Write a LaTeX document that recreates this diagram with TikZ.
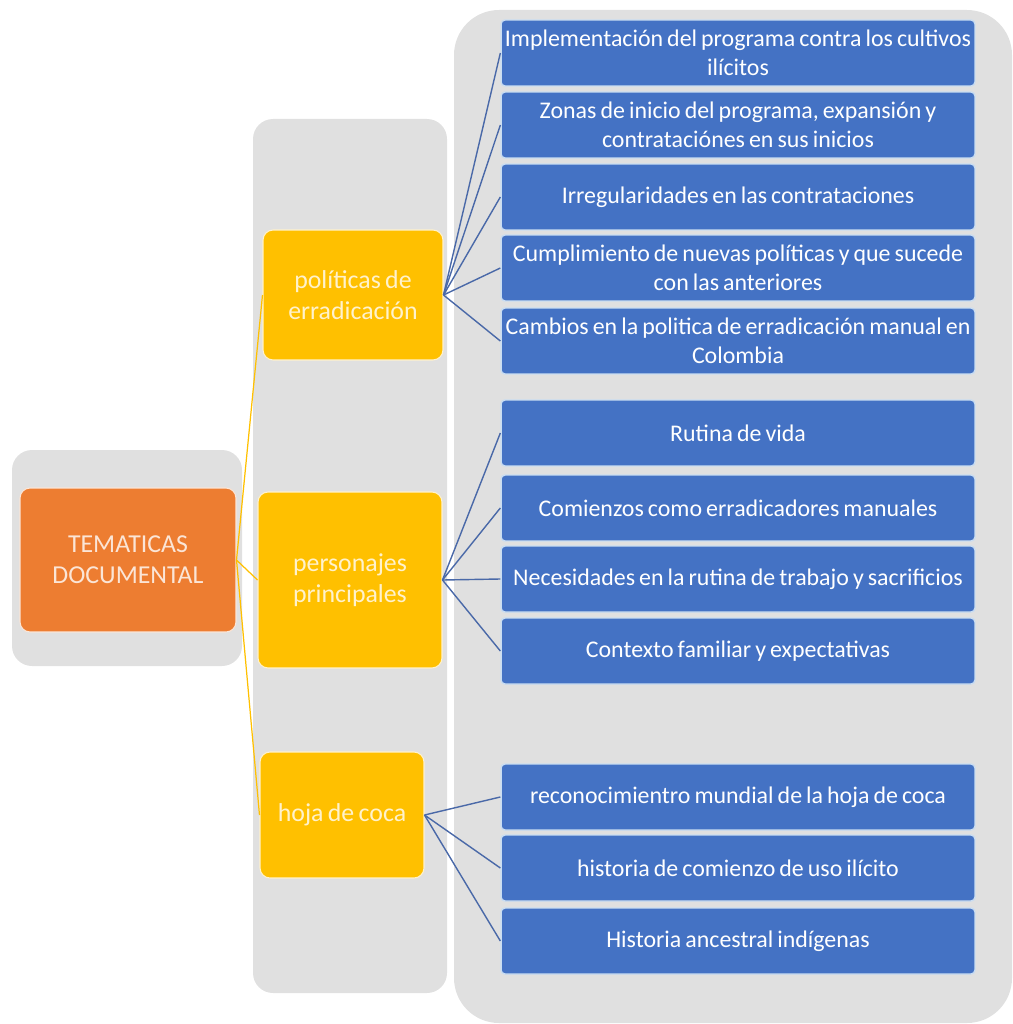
\documentclass[tikz,border=0pt]{standalone}
\usepackage{fontspec}
\setmainfont{Carlito}[WordSpace=0.75]

\definecolor{panelgray}{HTML}{E0E0E0}
\definecolor{temaorange}{HTML}{ED7D31}
\definecolor{subyellow}{HTML}{FFC000}
\definecolor{itemblue}{HTML}{4472C4}
\definecolor{linkblue}{HTML}{4A69A8}
\definecolor{paleyellow}{HTML}{FFF2CC}
\definecolor{palepeach}{HTML}{FBE5D6}
\definecolor{edgeblue}{HTML}{C9DDF2}

\tikzset{
    panel/.style={fill=panelgray, rounded corners=0.4cm},
    temabox/.style={draw=palepeach, line width=0.6pt, fill=temaorange, text=palepeach,
        rounded corners=0.2cm, align=center, minimum width=4.32cm, minimum height=2.88cm,
        font=\fontsize{14.7}{17.5}\selectfont},
    subbox/.style={draw=paleyellow, line width=0.6pt, fill=subyellow, text=paleyellow,
        rounded corners=0.2cm, align=center, font=\fontsize{14.7}{17.5}\selectfont},
    itembox/.style={draw=edgeblue, line width=0.8pt, fill=itemblue, text=white,
        rounded corners=0.08cm, minimum width=9.48cm, minimum height=1.32cm,
        inner sep=0pt, align=center, font=\fontsize{13.6}{16.8}\selectfont},
    sublink/.style={subyellow, line width=0.7pt},
    itemlink/.style={linkblue, line width=0.8pt},
}

\begin{document}
\begin{tikzpicture}[x=0.02cm, y=-0.02cm]
    \useasboundingbox (0,0) rectangle (1012,1024);

    % Gray panels behind each column:
    \fill [panel] (12,450) rectangle (242,666);
    \fill [panel] (253,119) rectangle (447,993);
    \fill [panel, rounded corners=0.9cm] (454,10) rectangle (1012,1023);

    % Main topic:
    \node [temabox] (tema) at (128,560) {TEMATICAS\\DOCUMENTAL};

    % Sub topics:
    \node [subbox, minimum width=3.6cm, minimum height=2.6cm]   (pol)  at (353,295) {políticas de\\erradicación};
    \node [subbox, minimum width=3.68cm, minimum height=3.52cm] (per)  at (350,580) {personajes\\principales};
    \node [subbox, minimum width=3.28cm, minimum height=2.52cm] (hoja) at (342,815) {hoja de coca};

    % Items, one row each: y of the centre / text
    \foreach \y/\txt [count=\i] in {
        53/{Implementación del programa contra los cultivos\\ilícitos},
        125/{Zonas de inicio del programa, expansión y\\contrataciónes en sus inicios},
        197/{Irregularidades en las contrataciones},
        268/{Cumplimiento de nuevas políticas y que sucede\\con las anteriores},
        341/{Cambios en la politica de erradicación manual en\\Colombia},
        433/{Rutina de vida},
        508/{Comienzos como erradicadores manuales},
        579/{Necesidades en la rutina de trabajo y sacrificios},
        651/{Contexto familiar y expectativas},
        797/{reconocimientro mundial de la hoja de coca},
        868/{historia de comienzo de uso ilícito},
        941/{Historia ancestral indígenas}}{%
        \node [itembox] (item\i) at (738,\y) {\txt};
    }

    % Connectors:
    \foreach \s in {pol,per,hoja}
        \draw [sublink] (tema.east) -- (\s.west);
    \foreach \i in {1,...,5}
        \draw [itemlink] (pol.east) -- (item\i.west);
    \foreach \i in {6,...,9}
        \draw [itemlink] (per.east) -- (item\i.west);
    \foreach \i in {10,11,12}
        \draw [itemlink] (hoja.east) -- (item\i.west);
\end{tikzpicture}
\end{document}
